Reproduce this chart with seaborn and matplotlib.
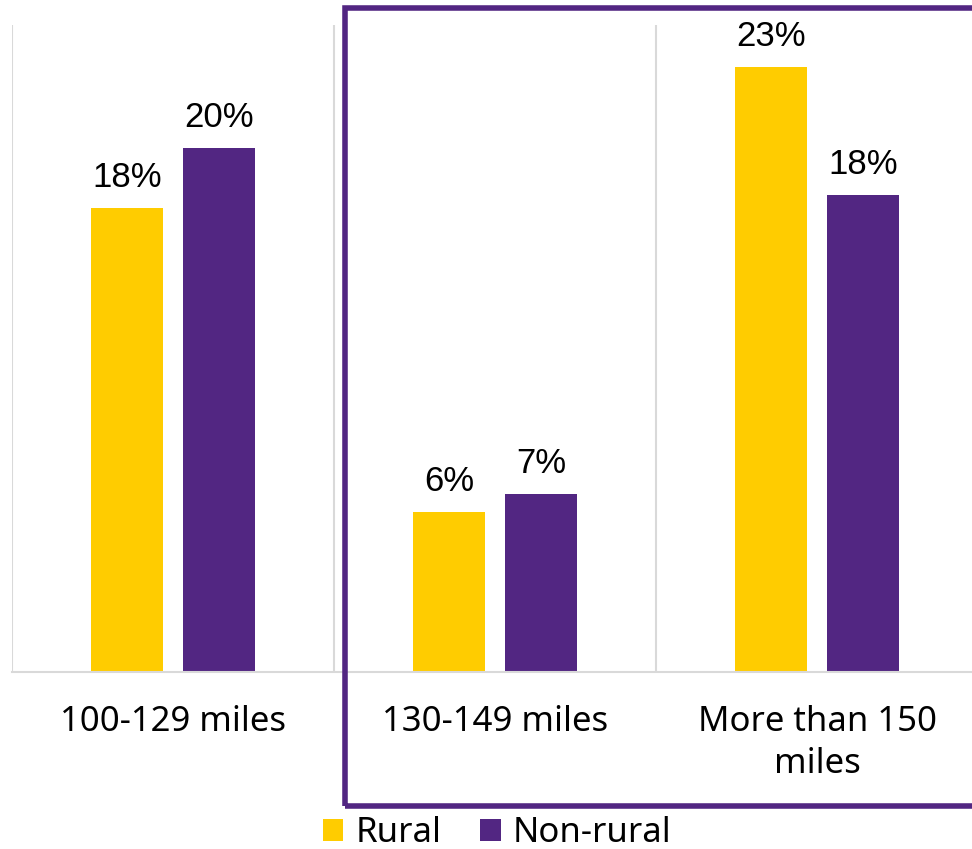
import numpy as np
import pandas as pd
import matplotlib
matplotlib.use("Agg")
import matplotlib.pyplot as plt
from matplotlib.patches import Rectangle
import seaborn as sns

# values (percent)
distances = ["100-129 miles", "130-149 miles", "More than 150\nmiles"]
rural = [17.7, 6.1, 23.1]
non_rural = [20.0, 6.8, 18.2]
groups = ["Rural", "Non-rural"]
colors = ["#FFCC00", "#522682"]

df = pd.DataFrame({
    "distance": distances * 2,
    "group": [groups[0]] * 3 + [groups[1]] * 3,
    "pct": rural + non_rural,
})

sns.set_style("white")
plt.rcParams["font.family"] = ["Noto Sans", "DejaVu Sans"]
plt.rcParams["text.color"] = "black"
plt.rcParams["xtick.color"] = "black"

fig = plt.figure(figsize=(9.72, 8.49), dpi=100)
ax = fig.add_axes([12 / 972, 177 / 849, 966 / 972, 647 / 849])

sns.barplot(data=df, x="distance", y="pct", hue="group", palette=colors,
            width=0.572, gap=0.217, linewidth=0, saturation=1, ax=ax)

ax.set_xlim(-0.5, 2.5)
ax.set_ylim(0, 24.7)
ax.set_xlabel("")
ax.set_ylabel("")
ax.set_yticks([])

# category separators
ax.set_xticks([-0.5, 0.5, 1.5, 2.5], minor=True)
ax.grid(True, which="minor", axis="x", color="#D9D9D9", lw=1.5)
ax.tick_params(axis="x", which="both", length=0)
ax.tick_params(axis="x", which="major", pad=24, labelsize=25, labelcolor="black")
for lab in ax.get_xticklabels():
    lab.set_linespacing(1.3)

for s in ["top", "right", "left"]:
    ax.spines[s].set_visible(False)
ax.spines["bottom"].set_color("#D9D9D9")
ax.spines["bottom"].set_linewidth(1.5)

for cont in ax.containers:
    ax.bar_label(cont, labels=[f"{v:.0f}%" for v in cont.datavalues],
                 padding=10, fontsize=25, family="Liberation Sans", color="black")

sns.move_legend(ax, "center", bbox_to_anchor=(497 / 972, 16 / 849),
                bbox_transform=fig.transFigure, ncol=2, frameon=False,
                title=None, fontsize=25, handlelength=0.6, handleheight=0.6,
                handletextpad=0.35, columnspacing=1.1)

# highlight box
fig.add_artist(Rectangle((345 / 972, 43.5 / 849), 640 / 972, 798 / 849,
                         transform=fig.transFigure, fill=False,
                         ec="#522682", lw=4, clip_on=False))

fig.savefig("out.png", dpi=100)
